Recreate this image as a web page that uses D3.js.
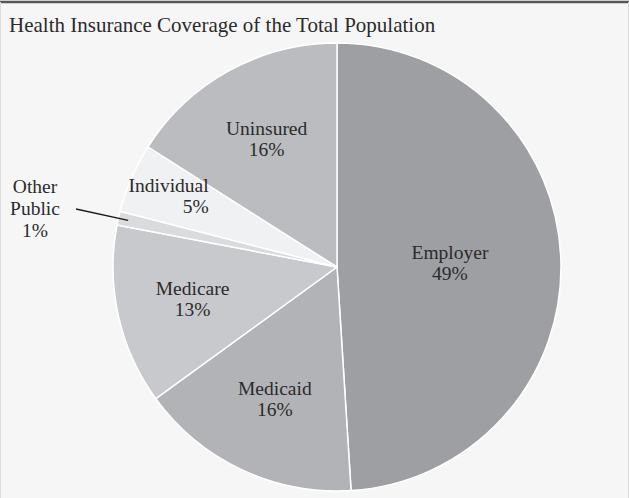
<!DOCTYPE html>
<html>
<head>
<meta charset="utf-8">
<script src="https://cdn.jsdelivr.net/npm/d3@7"></script>
<style>
  body { margin: 0; background: #fff; }
  svg { display: block; }
  text { font-family: "Liberation Serif", "DejaVu Serif", serif; fill: #2b2b2b; }
</style>
</head>
<body>
<svg id="chart" width="629" height="498"></svg>
<script>
// Daten
var categories = ["Employer", "Medicaid", "Medicare", "Other Public", "Individual", "Uninsured"];
var shares = [49, 16, 13, 1, 5, 16];
var shareLabels = ["49%", "16%", "13%", "1%", "5%", "16%"];

// Aussehen
var colors = ["#9e9fa3", "#b2b3b7", "#c8c9cc", "#dadbdd", "#f0f1f3", "#bbbcbf"];
var labelRadius = [113, 146, 148, 0, 178, 146];

var W = 629, H = 498;
var cx = 337, cy = 267, R = 224;

var svg = d3.select("#chart");

svg.append("rect")
  .attr("width", W).attr("height", H)
  .attr("fill", "#f6f6f6");

// Rahmen
svg.append("line")
  .attr("x1", 0).attr("x2", W).attr("y1", 2).attr("y2", 2)
  .attr("stroke", "#575757").attr("stroke-width", 2.5);
svg.append("line")
  .attr("x1", 0.5).attr("x2", 0.5).attr("y1", 2).attr("y2", H)
  .attr("stroke", "#dcdcdc");
svg.append("line")
  .attr("x1", W - 0.5).attr("x2", W - 0.5).attr("y1", 2).attr("y2", H)
  .attr("stroke", "#dcdcdc");

svg.append("text")
  .attr("x", 9).attr("y", 32)
  .attr("font-size", 21)
  .text("Health Insurance Coverage of the Total Population");

var data = categories.map(function(c, i) {
  return { name: c, value: shares[i], label: shareLabels[i], i: i };
});

var pie = d3.pie().sort(null).value(function(d) { return d.value; });
var arcs = pie(data);
var arc = d3.arc().innerRadius(0).outerRadius(R);

var g = svg.append("g").attr("transform", "translate(" + cx + "," + cy + ")");

g.selectAll("path.slice")
  .data(arcs)
  .enter().append("path")
  .attr("class", "slice")
  .attr("d", arc)
  .attr("fill", function(d) { return colors[d.data.i]; })
  .attr("stroke", "#ffffff")
  .attr("stroke-width", 1.5)
  .attr("stroke-linejoin", "round");

// Beschriftungen in den Segmenten
arcs.forEach(function(d) {
  var i = d.data.i;
  if (d.data.name === "Other Public") return;
  var r = labelRadius[i];
  var pos = d3.arc().innerRadius(r).outerRadius(r).centroid(d);
  var anchor = d.data.name === "Individual" ? "end" : "middle";
  var dx = d.data.name === "Individual" ? 35 : 0;
  var t = g.append("text")
    .attr("text-anchor", anchor)
    .attr("font-size", 19.5)
    .attr("transform", "translate(" + (pos[0] + dx) + "," + pos[1] + ")");
  t.append("tspan").attr("x", 0).attr("y", -4).text(d.data.name);
  t.append("tspan").attr("x", 0).attr("y", 17).text(d.data.label);
});

// Other Public mit Hinweislinie
var other = arcs[3];
var inner = d3.arc().innerRadius(R - 10).outerRadius(R - 10).centroid(other);
var lx = -261, ly = -58;
g.append("line")
  .attr("x1", inner[0]).attr("y1", inner[1])
  .attr("x2", lx).attr("y2", ly)
  .attr("stroke", "#1a1a1a").attr("stroke-width", 1.3);

var ot = g.append("text")
  .attr("text-anchor", "middle")
  .attr("font-size", 19.5)
  .attr("transform", "translate(" + (lx - 41) + "," + (ly - 16) + ")");
["Other", "Public", other.data.label].forEach(function(s, k) {
  ot.append("tspan").attr("x", 0).attr("y", k * 22).text(s);
});
</script>
</body>
</html>
